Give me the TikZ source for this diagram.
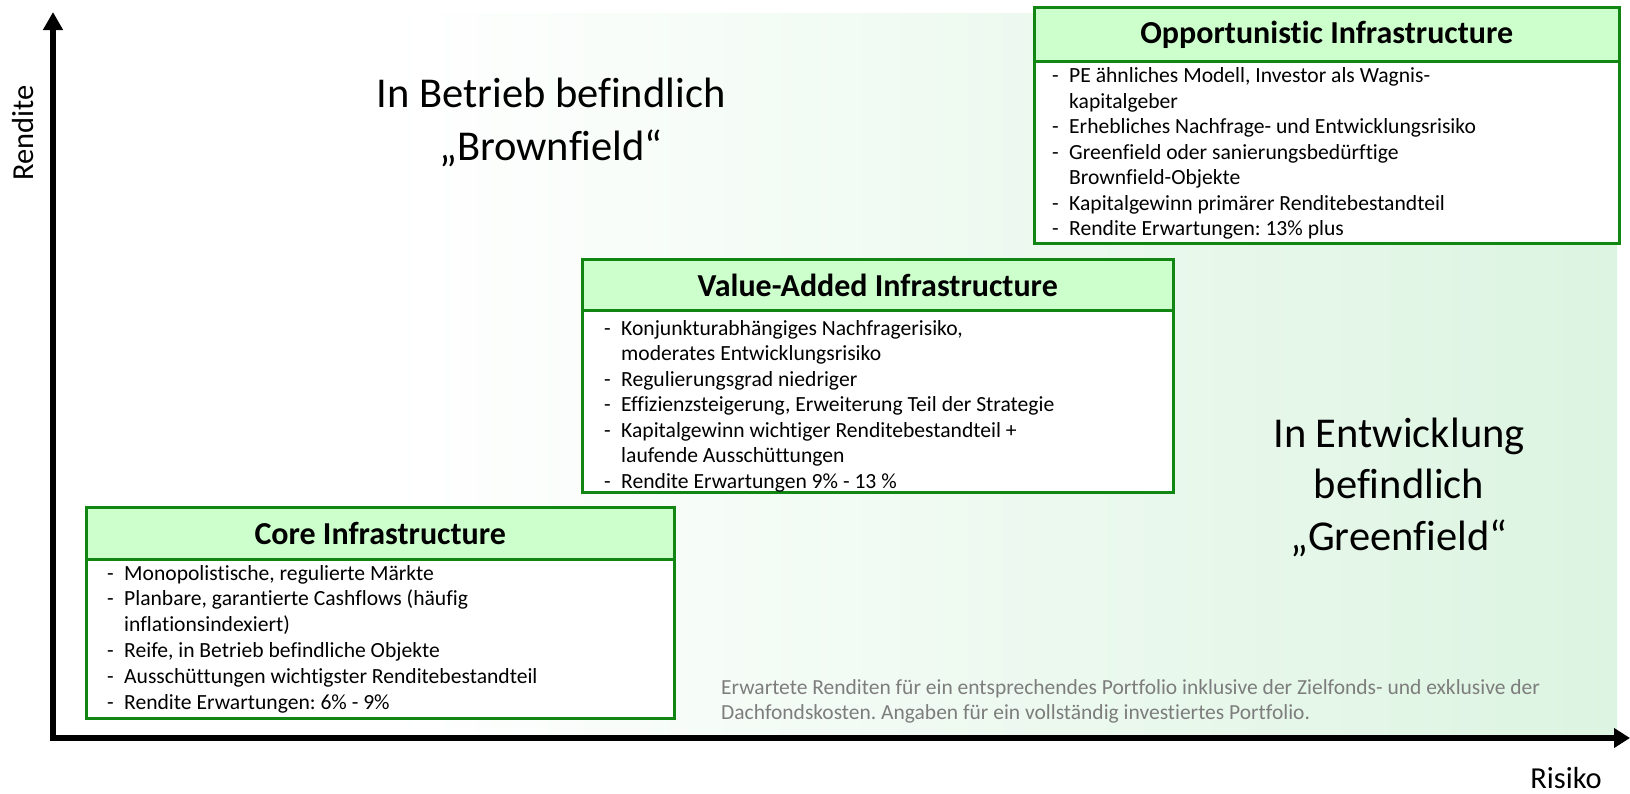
\documentclass[tikz,border=0pt]{standalone}
\usepackage{fontspec}
\setmainfont{Carlito}[Ligatures=NoCommon]
\usetikzlibrary{arrows.meta}

\definecolor{boxgreen}{RGB}{18,134,18}
\definecolor{hdrfill}{RGB}{204,255,204}
\definecolor{bgright}{RGB}{220,244,225}
\definecolor{notegray}{RGB}{125,125,125}

% bullet dash and continuation indent for the box lists
\newcommand\lidash{\makebox[17pt][l]{-}}
\newcommand\licont{\hspace*{17pt}}

\tikzset{
  axisline/.style={line width=5.5pt, line join=miter,
    {Triangle[length=18pt,width=19pt]}-{Triangle[length=16pt,width=19pt]}},
  hdrbox/.style={draw=boxgreen, line width=3pt, fill=hdrfill, anchor=north west,
    inner sep=0pt, font=\bfseries\fontsize{32}{38}\selectfont},
  bodybox/.style={draw=boxgreen, line width=3pt, fill=white, anchor=north west, inner sep=0pt},
  listtext/.style={anchor=base west, inner sep=0pt, font=\fontsize{21.6}{25.5}\selectfont},
  bigtext/.style={align=center, inner sep=0pt, font=\fontsize{42.5}{51.5}\selectfont},
  axislabel/.style={inner sep=0pt, font=\fontsize{30.5}{36}\selectfont},
  notetext/.style={anchor=base west, inner sep=0pt, text=notegray, font=\fontsize{21.5}{25}\selectfont}
}

\begin{document}
\frenchspacing
\begin{tikzpicture}[x=1pt,y=-1pt]
\useasboundingbox (0,0) rectangle (1630,793);

% soft green backdrop towards higher risk
\shade[left color=white, right color=bgright] (390,13) rectangle (1617,735);

% axes
\coordinate (O) at (53,738);
\coordinate (ytip) at (53,12);
\coordinate (xtip) at (1630,738);
\draw[axisline] (ytip) -- (O) -- (xtip);
\node[axislabel, rotate=90] (ylab) at (23,133) {Rendite};
\node[axislabel] (xlab) at (1566,778) {Risiko};

% region labels
\node[bigtext, font=\fontsize{42.5}{53}\selectfont] (brown) at (551,122) {In Betrieb befindlich\\„Brownfield“};
\node[bigtext] (green) at (1399,487) {In Entwicklung\\befindlich\\„Greenfield“};

% Core
\node[bodybox, minimum width=587.5pt, minimum height=159pt] (coreB) at (85,558) {};
\node[hdrbox, minimum width=587.5pt, minimum height=52pt] (coreH) at (85,506) {Core Infrastructure};
\node[listtext, font=\fontsize{21.6}{25.8}\selectfont] (coreT) at (107,580) {\begin{tabular}[t]{@{}l@{}}
\lidash Monopolistische, regulierte Märkte\\
\lidash Planbare, garantierte Cashflows (häufig\\
\licont inflationsindexiert)\\
\lidash Reife, in Betrieb befindliche Objekte\\
\lidash Ausschüttungen wichtigster Renditebestandteil\\
\lidash Rendite Erwartungen: 6\% - 9\%
\end{tabular}};

% Value-Added
\node[bodybox, minimum width=590.5pt, minimum height=181.5pt] (valB) at (581,309) {};
\node[hdrbox, minimum width=590.5pt, minimum height=51pt] (valH) at (581,258) {Value-Added Infrastructure};
\node[listtext] (valT) at (604,335) {\begin{tabular}[t]{@{}l@{}}
\lidash Konjunkturabhängiges Nachfragerisiko,\\
\licont moderates Entwicklungsrisiko\\
\lidash Regulierungsgrad niedriger\\
\lidash Effizienzsteigerung, Erweiterung Teil der Strategie\\
\lidash Kapitalgewinn wichtiger Renditebestandteil +\\
\licont laufende Ausschüttungen\\
\lidash Rendite Erwartungen 9\% - 13 \%
\end{tabular}};

% Opportunistic
\node[bodybox, minimum width=584.5pt, minimum height=182pt] (oppB) at (1033,60) {};
\node[hdrbox, minimum width=584.5pt, minimum height=54pt] (oppH) at (1033,6) {Opportunistic Infrastructure};
\node[listtext] (oppT) at (1052,82.5) {\begin{tabular}[t]{@{}l@{}}
\lidash PE ähnliches Modell, Investor als Wagnis-\\
\licont kapitalgeber\\
\lidash Erhebliches Nachfrage- und Entwicklungsrisiko\\
\lidash Greenfield oder sanierungsbedürftige\\
\licont Brownfield-Objekte\\
\lidash Kapitalgewinn primärer Renditebestandteil\\
\lidash Rendite Erwartungen: 13\% plus
\end{tabular}};

% footnote
\node[notetext] (note) at (721,694) {\begin{tabular}[t]{@{}l@{}}
Erwartete Renditen für ein entsprechendes Portfolio inklusive der Zielfonds- und exklusive der\\
Dachfondskosten. Angaben für ein vollständig investiertes Portfolio.
\end{tabular}};
\end{tikzpicture}
\end{document}
